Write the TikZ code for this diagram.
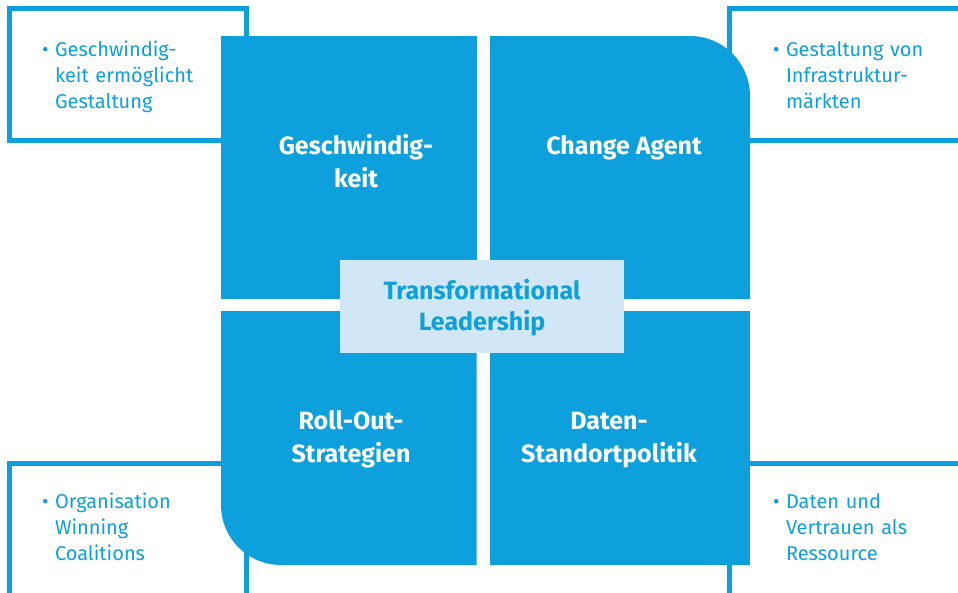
\documentclass[tikz,border=0pt]{standalone}
\usepackage{fontspec}
\setmainfont{Fira Sans}
\definecolor{leadblue}{RGB}{14,160,220}
\definecolor{leadlight}{RGB}{209,230,246}

% bullet with hanging lines, optionally lowered
\newcommand{\bulletnote}[2][0pt]{%
  \raisebox{-#1}[\height][\depth]{%
    \begin{tabular}{@{}l@{}l@{}}\makebox[13pt][l]{\textbullet}&#2\end{tabular}}}
% centred lines, lowered inside their box
\newcommand{\lowlines}[2]{%
  \raisebox{-#1}[\height][\depth]{\begin{tabular}{@{}c@{}}#2\end{tabular}}}

\begin{document}
\begin{tikzpicture}[
  x=1pt, y=-1pt,
  note/.style={
    draw=leadblue,
    fill=white,
    line width=5pt,
    anchor=north west,
    outer sep=0pt,
    inner ysep=0pt,
    minimum height=132pt,
    align=left,
    text=leadblue,
    font=\fontsize{20}{26}\selectfont
  },
  quadrant/.style={fill=leadblue},
  quadlabel/.style={
    text=white,
    align=center,
    font=\bfseries\fontsize{25}{33}\selectfont
  },
  core/.style={
    fill=leadlight,
    text=leadblue,
    align=center,
    minimum width=284pt,
    minimum height=93pt,
    font=\bfseries\fontsize{25}{31}\selectfont
  }
]
\clip (0,0) rectangle (958,592);

% outlined notes behind the quadrants
\node[note, inner xsep=32.5pt, text width=172pt, minimum width=237pt] (note-speed) at (9.5,8.5)
  {\bulletnote[2.5pt]{Geschwindig-\\&keit ermöglicht\\&Gestaltung}};
\node[note, inner xsep=43.5pt, text width=183.5pt, minimum width=270.5pt] (note-change) at (729.5,8.5)
  {\bulletnote[2.5pt]{Gestaltung von\\&Infrastruktur-\\&märkten}};
\node[note, inner xsep=32.5pt, text width=172pt, minimum width=237pt] (note-rollout) at (9.5,463.5)
  {\bulletnote{Organisation\\&Winning\\&Coalitions}};
\node[note, inner xsep=43.5pt, text width=183.5pt, minimum width=270.5pt] (note-data) at (729.5,463.5)
  {\bulletnote{Daten und\\&Vertrauen als\\&Ressource}};

% four quadrants
\fill[quadrant] (221,36) rectangle (476.5,299);
\fill[quadrant] (490,36) -- (690,36) arc[start angle=-90, end angle=0, radius=60]
  -- (750,299) -- (490,299) -- cycle;
\fill[quadrant] (221,311) -- (476.5,311) -- (476.5,565) -- (281,565)
  arc[start angle=90, end angle=180, radius=60] -- cycle;
\fill[quadrant] (490,311) rectangle (750,565);

\node[quadlabel] (speed) at (356,161) {Geschwindig-\\keit};
\node[quadlabel] (change) at (624,148) {Change Agent};
\node[quadlabel] (rollout) at (351,439.5) {Roll-Out-\\Strategien};
\node[quadlabel] (data) at (609,440.5) {Daten-\\Standortpolitik};

\node[core] (leadership) at (482,306.5) {\lowlines{2pt}{Transformational\\Leadership}};
\end{tikzpicture}
\end{document}
